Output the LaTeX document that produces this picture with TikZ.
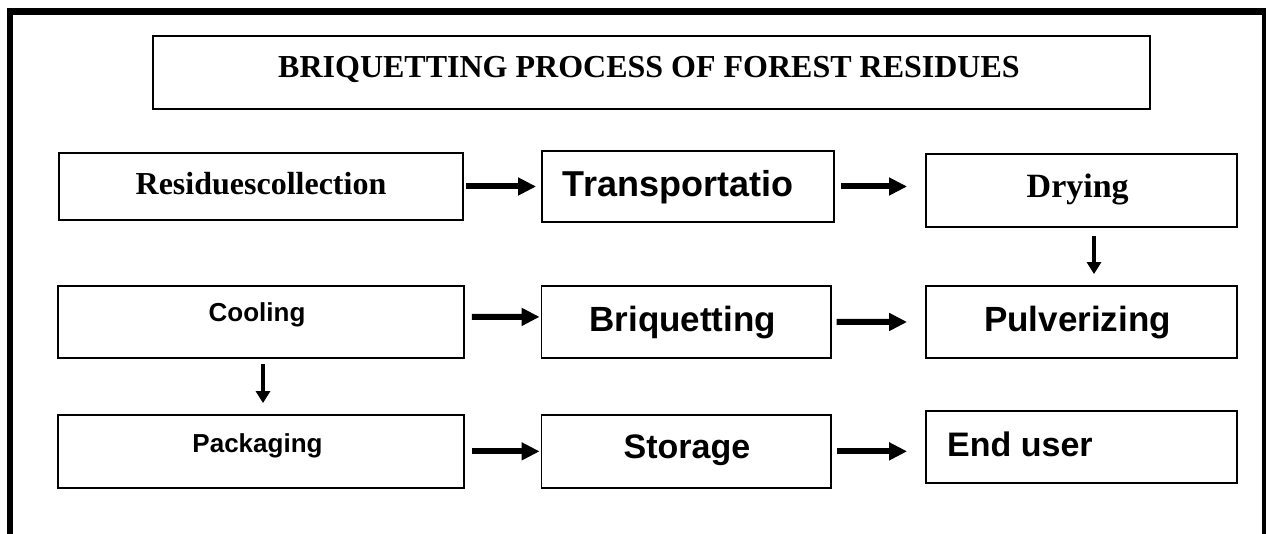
\documentclass[tikz,border=0pt]{standalone}
\usepackage{fontspec}
\newfontfamily\serifbf{Liberation Serif}
\newfontfamily\sansbf{Liberation Sans}
\usetikzlibrary{arrows.meta}
\tikzset{
  box/.style={draw=black, line width=1.8pt, rectangle, inner sep=0pt, fill=white},
  lbl/.style={inner sep=0pt, anchor=base, text=black},
  harr/.style={line width=6pt, -{Triangle[length=18pt,width=17pt]}},
  varr/.style={line width=3.5pt, -{Triangle[length=12pt,width=14pt]}},
  frame/.style={line width=6.5pt, line join=miter}
}
\begin{document}
\begin{tikzpicture}[x=1pt,y=-1pt]
\useasboundingbox (0,0) rectangle (1266,534);
\fill[white] (0,0) rectangle (1266,534);
% outer frame
\draw[frame] (10,545) -- (10,11.3) -- (1265,11.3) -- (1265,545);
% title
\node[box, minimum width=997pt, minimum height=73pt] (titlebox) at (651.5,72.5) {};
\node[lbl, font=\serifbf\bfseries\fontsize{32}{38}\selectfont] (titletext) at (649,77.3) {BRIQUETTING PROCESS OF FOREST RESIDUES};
% boxes
\node[box, minimum width=404.3pt, minimum height=67pt] (res) at (260.9,186.5) {};
\node[box, minimum width=292pt, minimum height=71pt] (trans) at (688,186.5) {};
\node[box, minimum width=311pt, minimum height=73pt] (dry) at (1081.5,190.5) {};
\node[box, minimum width=406pt, minimum height=72.6pt] (cool) at (261,322) {};
\node[box, minimum width=289.2pt, minimum height=72.3pt] (briq) at (686.1,321.9) {};
\node[box, minimum width=311pt, minimum height=72pt] (pulv) at (1081.5,322) {};
\node[box, minimum width=406pt, minimum height=72.7pt] (pack) at (261,451.35) {};
\node[box, minimum width=289.2pt, minimum height=72.7pt] (stor) at (686.1,451.35) {};
\node[box, minimum width=311pt, minimum height=72pt] (enduser) at (1081.5,447) {};
% texts
\node[lbl, font=\serifbf\bfseries\fontsize{32}{38}\selectfont] (restext) at (261,194.3) {Residuescollection};
\node[lbl, font=\sansbf\bfseries\fontsize{36}{42}\selectfont] (transtext) at (678,196.7) {Transportatio};
\node[lbl, font=\serifbf\bfseries\fontsize{34}{40}\selectfont] (drytext) at (1077.7,197.3) {Drying};
\node[lbl, font=\sansbf\bfseries\fontsize{26}{31}\selectfont] (cooltext) at (257,321.7) {Cooling};
\node[lbl, font=\sansbf\bfseries\fontsize{35}{41}\selectfont] (briqtext) at (682.7,331.7) {Briquetting};
\node[lbl, font=\sansbf\bfseries\fontsize{35}{41}\selectfont] (pulvtext) at (1077.6,331.7) {Pulverizing};
\node[lbl, font=\sansbf\bfseries\fontsize{26}{31}\selectfont] (packtext) at (257.5,452.7) {Packaging};
\node[lbl, font=\sansbf\bfseries\fontsize{34}{40}\selectfont] (stortext) at (687,458) {Storage};
\node[lbl, anchor=base west, font=\sansbf\bfseries\fontsize{34}{40}\selectfont] (endtext) at (947,456.7) {End user};
% arrows
\draw[harr] ([xshift=2pt]res.east) -- ([xshift=-5pt]trans.west);
\draw[harr] ([xshift=6pt]trans.east) -- ([xshift=-18pt]dry.west |- trans.east);
\draw[varr] ([xshift=12.5pt,yshift=-8pt]dry.south) -- ([xshift=12.5pt,yshift=11pt]pulv.north);
\draw[harr] ([xshift=7pt,yshift=5pt]cool.east) -- ([xshift=-1pt,yshift=5pt]briq.west);
\draw[harr] ([xshift=5pt]briq.east) -- ([xshift=-18pt]pulv.west);
\draw[varr] ([xshift=2pt,yshift=-5pt]cool.south) -- ([xshift=2pt,yshift=11pt]pack.north);
\draw[harr] ([xshift=7pt]pack.east) -- ([xshift=-1pt]stor.west);
\draw[harr] ([xshift=5pt]stor.east) -- ([xshift=-18pt]enduser.west |- stor.east);
\end{tikzpicture}
\end{document}
